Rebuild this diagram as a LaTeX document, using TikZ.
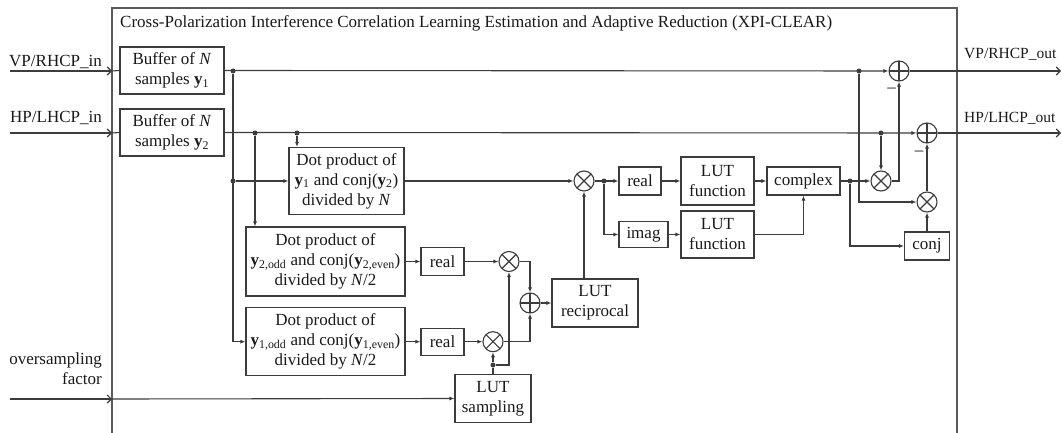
\documentclass[tikz,border=0pt]{standalone}
\usepackage{fontspec}
\setmainfont{Liberation Serif}
\usepackage{tikz}
\usetikzlibrary{arrows.meta,calc}
\definecolor{linec}{RGB}{60,60,60}
\definecolor{framec}{RGB}{90,90,90}
\definecolor{txtc}{RGB}{25,25,25}

\tikzset{
  blk/.style={draw=linec, line width=1.1pt, align=center, inner sep=1pt, text=txtc},
  wire/.style={draw=linec, line width=1.1pt},
  sig/.style={wire, -{Latex[length=5pt,width=4pt]}},
  port/.style={wire, -{Straight Barb[length=4pt,width=8pt]}},
  jn/.style={circle, fill=linec, inner sep=0pt, minimum size=5pt},
  mul/.style={circle, draw=linec, line width=1.1pt, minimum size=20pt, inner sep=0pt,
    path picture={\draw[linec, line width=1.1pt]
      (path picture bounding box.south west) -- (path picture bounding box.north east)
      (path picture bounding box.north west) -- (path picture bounding box.south east);}},
  add/.style={circle, draw=linec, line width=1.1pt, minimum size=20pt, inner sep=0pt,
    path picture={\draw[linec, line width=1.1pt]
      (path picture bounding box.north) -- (path picture bounding box.south)
      (path picture bounding box.west) -- (path picture bounding box.east);}},
  lbl/.style={text=txtc, inner sep=0pt},
}

\begin{document}
\begin{tikzpicture}[x=1pt, y=-1pt, font=\fontsize{17}{20}\selectfont]
\useasboundingbox (0,0) rectangle (1062,433);
\clip (0,0) rectangle (1062,433);

% outer block
\draw[framec, line width=1.4pt] (112,445) -- (112,8) -- (957,8) -- (957,445);
\node[lbl, anchor=west] (title) at (120,23) {Cross-Polarization Interference Correlation Learning Estimation and Adaptive Reduction (XPI-CLEAR)};

% buffers and correlators
\node[blk, minimum width=104, minimum height=47] (buf1) at (172,70.5) {Buffer of \textit{N}\\samples \textbf{y}\textsubscript{1}};
\node[blk, minimum width=104, minimum height=47] (buf2) at (172,132.5) {Buffer of \textit{N}\\samples \textbf{y}\textsubscript{2}};
\node[blk, minimum width=115, minimum height=67] (dot1) at (346.5,181) {Dot product of\\\textbf{y}\textsubscript{1} and conj(\textbf{y}\textsubscript{2})\\divided by \textit{N}};
\node[blk, minimum width=159, minimum height=69] (dot2) at (325.5,261.5) {Dot product of\\\textbf{y}\textsubscript{2,odd} and conj(\textbf{y}\textsubscript{2,even})\\divided by \textit{N}/2};
\node[blk, minimum width=159, minimum height=68] (dot3) at (325.5,341.7) {Dot product of\\\textbf{y}\textsubscript{1,odd} and conj(\textbf{y}\textsubscript{1,even})\\divided by \textit{N}/2};

% normalisation
\node[blk, minimum width=43, minimum height=28] (real1) at (442.5,261.5) {real};
\node[blk, minimum width=43, minimum height=27] (real2) at (442.5,341.7) {real};
\node[mul] (m2) at (509,261.5) {};
\node[mul] (m3) at (493,341.7) {};
\node[add] (s1) at (530,303) {};
\node[blk, minimum width=76, minimum height=48] (lutsamp) at (493,398.5) {LUT\\sampling};
\node[blk, minimum width=86, minimum height=48] (lutrec) at (595,303) {LUT\\reciprocal};

% coefficient path
\node[mul] (m1) at (584,181) {};
\node[blk, minimum width=42, minimum height=28] (real3) at (640,181) {real};
\node[blk, minimum width=49, minimum height=26] (imag) at (643.5,234.5) {imag};
\node[blk, minimum width=73, minimum height=48] (lutf1) at (717.5,181) {LUT\\function};
\node[blk, minimum width=73, minimum height=47] (lutf2) at (717.5,234.5) {LUT\\function};
\node[blk, minimum width=73, minimum height=28] (cplx) at (803.5,181) {complex};
\node[blk, minimum width=45, minimum height=28] (conj) at (927,246) {conj};

% cancellation
\node[mul] (m4) at (881,181) {};
\node[mul] (m5) at (927,202) {};
\node[add] (sVP) at (899,71) {};
\node[add] (sHP) at (927,133) {};
\node[lbl] (mvp) at (891.5,90) {--};
\node[lbl] (mhp) at (919,153) {--};

% junctions
\node[jn] (j1) at (233,71) {};
\node[jn] (j2) at (233,181) {};
\node[jn] (j3) at (255,133) {};
\node[jn] (j4) at (297,133) {};
\node[jn] (j5) at (859,71) {};
\node[jn] (j6) at (881,133) {};
\node[jn] (j7) at (604,181) {};
\node[jn] (j8) at (850,181) {};
\node[jn] (j9) at (493,365) {};

% ports
\coordinate (vpin) at (10,71);   \coordinate (vpfr) at (112,71);
\coordinate (hpin) at (10,133);  \coordinate (hpfr) at (112,133);
\coordinate (osin) at (10,399);  \coordinate (osfr) at (112,399);
\coordinate (vpout) at (1061,71);
\coordinate (hpout) at (1061,133);
\node[lbl, anchor=east] (vplbl) at (102,62) {VP/RHCP\_in};
\node[lbl, anchor=east] (hplbl) at (102,118) {HP/LHCP\_in};
\node[lbl, anchor=east, align=right] (oslbl) at (102,369) {oversampling\\factor};
\node[lbl, anchor=west, font=\fontsize{15.5}{20}\selectfont] (vpolbl) at (964,54) {VP/RHCP\_out};
\node[lbl, anchor=west, font=\fontsize{15.5}{20}\selectfont] (hpolbl) at (964,118) {HP/LHCP\_out};

\draw[port] (vpin) -- (vpfr);
\draw[port] (hpin) -- (hpfr);
\draw[port] (osin) -- (osfr);
\draw[wire] (vpfr) -- (buf1.west);
\draw[wire] (hpfr) -- (buf2.west);
\draw[sig] (osfr) -- (lutsamp.west);

% signal lines
\draw[sig] (buf1.east) -- (sVP.west);
\draw[sig] (buf2.east) -- (sHP.west);
\draw[sig] (j1) |- (dot3.west);
\draw[sig] (j2) -- (dot1.west);
\draw[sig] (j3) -- (j3 |- dot2.north);
\draw[sig] (j4) -- (j4 |- dot1.north);
\draw[sig] (dot1.east) -- (m1.west);
\draw[sig] (dot2.east) -- (real1.west);
\draw[sig] (real1.east) -- (m2.west);
\draw[sig] (dot3.east) -- (real2.west);
\draw[sig] (real2.east) -- (m3.west);
\draw[wire] (lutsamp.north) -- (j9);
\draw[sig] (j9) -- (m3.south);
\draw[sig] (j9) -| (m2.south);
\draw[sig] (m2.east) -| (s1.north);
\draw[sig] (m3.east) -| (s1.south);
\draw[sig] (s1.east) -- (lutrec.west);
\draw[sig] (m1 |- lutrec.north) -- (m1.south);
\draw[sig] (m1.east) -- (real3.west);
\draw[sig] (j7) |- (imag.west);
\draw[sig] (real3.east) -- (lutf1.west);
\draw[sig] (imag.east) -- (lutf2.west);
\draw[sig] (lutf1.east) -- (cplx.west);
\draw[sig] (lutf2.east) -| (cplx.south);
\draw[sig] (cplx.east) -- (m4.west);
\draw[sig] (j8) |- (conj.west);
\draw[sig] (conj.north) -- (m5.south);
\draw[sig] (m5.north) -- (sHP.south);
\draw[sig] (j5) |- (m5.west);
\draw[sig] (j6) -- (m4.north);
\draw[sig] (m4.east) -| (sVP.south);
\draw[port] (sVP.east) -- (vpout);
\draw[port] (sHP.east) -- (hpout);
\end{tikzpicture}
\end{document}
